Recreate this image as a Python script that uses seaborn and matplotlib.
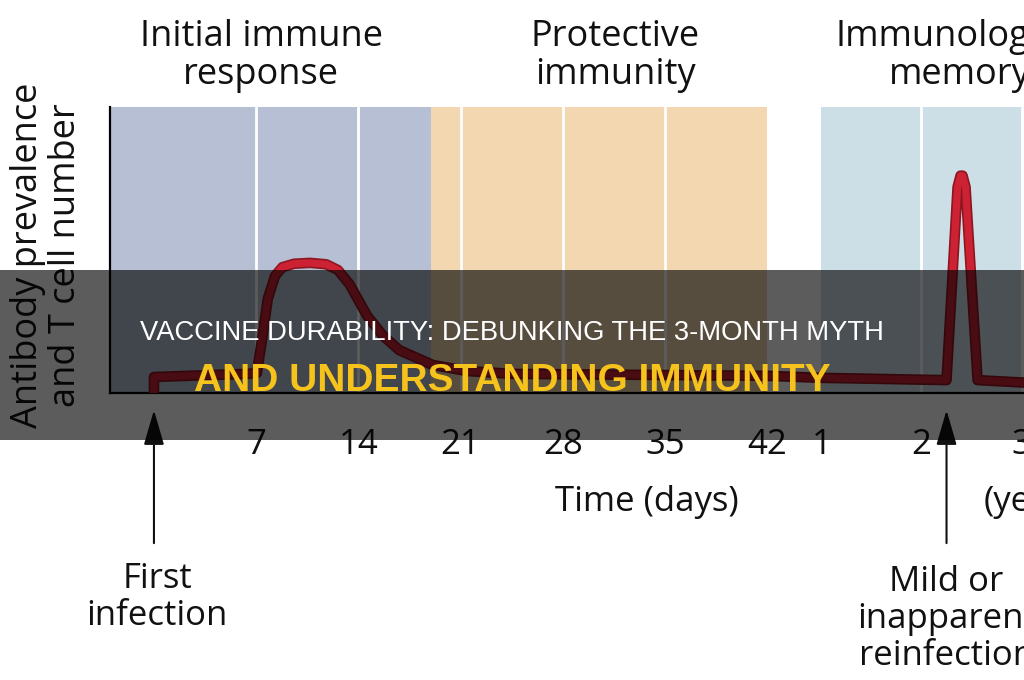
import numpy as np
import pandas as pd
import seaborn as sns
import matplotlib.pyplot as plt
import matplotlib.patheffects as pe
from matplotlib.patches import Rectangle

# tick values on the two time scales
day_ticks = [7, 14, 21, 28, 35, 42]
year_ticks = [1, 2, 3]

phase_names = ['Initial immune\nresponse', 'Protective\nimmunity', 'Immunological\nmemory']

# antibody / T cell level (0 = axis, 1 = top of panel)
curve_days = [0, 0, 6.4, 7.05, 7.4, 7.8, 8.3, 8.8, 9.6, 10.7, 11.8, 12.6, 13.4, 14.6, 15.7, 16.8,
              19.1, 21.4, 24.5, 42]
curve_day_level = [0, 0.056, 0.067, 0.07, 0.186, 0.33, 0.41, 0.44, 0.452, 0.455, 0.45, 0.43, 0.38,
                   0.27, 0.20, 0.15, 0.098, 0.077, 0.067, 0.06]
curve_years = [1.0, 2.25, 2.36, 2.39, 2.41, 2.44, 2.56, 3.1]
curve_year_level = [0.053, 0.045, 0.72, 0.76, 0.76, 0.72, 0.045, 0.035]

first_infection_day = 0
reinfection_year = 2.25

title = 'VACCINE DURABILITY: DEBUNKING THE 3-MONTH MYTH'
subtitle = 'AND UNDERSTANDING IMMUNITY'


# the axis is broken: days on one scale, years squeezed on after
def day_pos(d):
    return d / 7


def year_pos(y):
    return 6.53 + (y - 1) * 0.98


sns.set_style('white')
plt.rcParams['font.family'] = ['Open Sans', 'DejaVu Sans']

fig = plt.figure(figsize=(10.24, 6.8), dpi=100)
ax = fig.add_axes([110 / 1024, 287 / 680, 914 / 1024, 286 / 680])
ax.set_xlim(-0.43, 8.513)
ax.set_ylim(0, 1)

# phase shading
ax.axvspan(-0.43, day_pos(19), color='#b6bfd3', lw=0, zorder=0)
ax.axvspan(day_pos(19), day_pos(42), color='#f2d7b0', lw=0, zorder=0)
ax.axvspan(year_pos(1), 8.6, color='#cddfe6', lw=0, zorder=0)
for d in day_ticks[:-1]:
    ax.axvline(day_pos(d), color='white', lw=2, zorder=0.5)
for y in year_ticks[1:]:
    ax.axvline(year_pos(y), color='white', lw=2, zorder=0.5)

pos = [day_pos(d) for d in curve_days] + [year_pos(y) for y in curve_years]
level = curve_day_level + curve_year_level
curve = pd.DataFrame({'pos': pos, 'level': level})
sns.lineplot(data=curve, x='pos', y='level', sort=False, estimator=None, ax=ax,
             color='#cc2233', linewidth=5.2, zorder=3)
line = ax.lines[-1]
line.set_solid_joinstyle('round')
line.set_path_effects([pe.Stroke(linewidth=7.6, foreground='#8e1620', joinstyle='round'),
                       pe.Normal()])

# axes styling
for s in ['top', 'right']:
    ax.spines[s].set_visible(False)
for s in ['left', 'bottom']:
    ax.spines[s].set_color('black')
    ax.spines[s].set_linewidth(1.6)
ax.set_yticks([])
ax.set_xticks([day_pos(d) for d in day_ticks] + [year_pos(y) for y in year_ticks])
ax.set_xticklabels([str(d) for d in day_ticks] + [str(y) for y in year_ticks])
ax.tick_params(axis='x', direction='out', length=16.5, width=1.5, pad=9,
               labelsize=25, colors='#111111')
ax.set_xlabel('')
ax.set_ylabel('')

# phase headings
for name, xc in zip(phase_names, [261, 615, 960]):
    fig.text(xc / 1024, 1 - 56 / 680, name, ha='center', va='center', fontsize=26,
             color='#111111', linespacing=1.05)

fig.text(47 / 1024, 1 - 255 / 680, 'Antibody prevalence\nand T cell number', rotation=90,
         ha='center', va='center', fontsize=26, color='#111111', linespacing=1.05)
fig.text(647 / 1024, 1 - 502 / 680, 'Time (days)', ha='center', va='center', fontsize=25,
         color='#111111')
fig.text(984 / 1024, 1 - 502 / 680, '(years)', ha='left', va='center', fontsize=25,
         color='#111111')

# infection arrows
arrow = dict(arrowstyle='-|>,head_length=1.2,head_width=0.35', mutation_scale=18,
             color='#111111', lw=1.5, shrinkA=0, shrinkB=0)
ax.annotate('', xy=(day_pos(first_infection_day), -0.06), xytext=(day_pos(first_infection_day), -0.525),
            arrowprops=arrow, annotation_clip=False)
ax.annotate('', xy=(year_pos(reinfection_year), -0.06), xytext=(year_pos(reinfection_year), -0.525),
            arrowprops=arrow, annotation_clip=False)
ax.text(day_pos(first_infection_day) + 0.03, -0.715, 'First\ninfection', ha='center', va='center',
        fontsize=25, color='#111111', linespacing=1.1, clip_on=False)
ax.text(year_pos(reinfection_year), -0.79, 'Mild or\ninapparent\nreinfection', ha='center',
        va='center', fontsize=25, color='#111111', linespacing=1.1, clip_on=False)

# dark caption banner over the chart
fig.patches.append(Rectangle((0, 240 / 680), 1, 170 / 680, transform=fig.transFigure,
                             facecolor='black', alpha=0.64, lw=0, zorder=5))
fig.text(0.5, 1 - 333 / 680, title, ha='center', va='center', fontsize=19.7,
         color='white', family='Liberation Sans', zorder=6)
fig.text(0.5, 1 - 381 / 680, subtitle, ha='center', va='center', fontsize=28,
         color='#f6c21c', family='Liberation Sans', weight='bold', zorder=6)

fig.savefig('out.png', dpi=100, facecolor='white')
